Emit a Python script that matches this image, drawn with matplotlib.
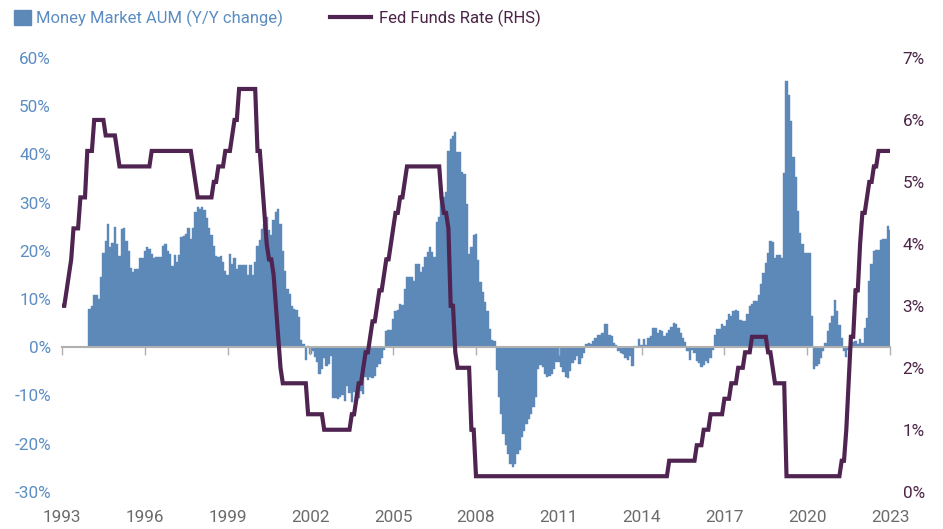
import numpy as np
import matplotlib
matplotlib.use("Agg")
import matplotlib.pyplot as plt
from matplotlib.patches import Rectangle
from matplotlib.lines import Line2D

# --- data -------------------------------------------------------------
# money market AUM, y/y change in %, monthly bars starting at axis year 1994
aum_yoy = [
    8.0, 8.6, 10.9, 10.8, 10.0, 14.5, 19.6, 22.1, 25.6, 20.7, 21.7, 25.0,
    21.5, 19.0, 24.6, 24.8, 22.1, 20.0, 16.5, 15.5, 16.3, 16.3, 18.4, 18.4,
    20.0, 20.7, 20.4, 19.4, 18.6, 18.8, 18.7, 18.8, 21.0, 21.5, 20.0, 19.3,
    16.9, 19.2, 17.6, 19.2, 22.8, 23.0, 23.5, 24.8, 22.5, 24.8, 28.0, 29.0,
    28.7, 29.0, 28.4, 26.7, 24.8, 23.2, 21.0, 19.0, 18.7, 19.0, 17.6, 15.9,
    14.9, 19.4,
    17.3, 18.4, 16.3, 17.0, 17.1, 17.1, 17.1, 14.9, 17.1, 14.9, 17.6, 21.0,
    22.3, 24.6, 25.5, 27.0, 24.4, 23.2, 26.3, 28.0, 28.7, 25.6, 20.0, 15.9,
    12.1, 11.1, 8.6, 8.0, 7.7, 6.2, 1.4, 0.7, -2.6, 0.2, -1.4, -0.8,
    -2.1, -3.1, -5.5, -4.5, -2.2, -3.9, -3.5, -1.8, -10.6, -10.5, -10.8,
    -10.4, -10.0, -11.1, -8.0, -9.5, -11.4, -9.4, -11.0, -10.6, -9.0, -9.8, -6.3,
    -6.8, -6.3, -6.4, -5.9, -4.2, -3.4, -2.2, -0.5, 3.3, 3.6, 3.6,
    5.9, 7.6, 7.7, 9.0, 8.8, 12.0, 14.5, 14.6,
    14.5, 13.8, 17.3, 17.3, 15.6, 16.6, 18.7, 19.7, 20.7, 19.7, 18.7,
    25.9, 27.0, 32.2, 31.1, 32.2, 40.8, 43.2, 43.9, 44.6, 40.5, 40.5, 36.3,
    36.0, 29.7, 19.4, 20.7, 23.2, 23.5, 18.0, 13.5, 11.4, 9.3, 7.6,
    3.8, 1.4, 1.2, -4.8, -10.4, -13.8, -18.0, -20.4, -22.1, -24.2, -24.9,
    -24.2, -22.1, -21.4, -18.7, -17.3, -15.9, -14.9, -13.8, -12.4, -10.4, -4.5, -3.8,
    -4.1, -5.5, -6.2, -6.0, -5.5, -4.5, -3.1, -3.1, -4.1, -5.2, -6.2,
    -6.5, -5.0, -3.3, -2.6, -1.9, -3.5, -2.2, -1.2, 0.7, 0.9, 0.6, 1.2,
    1.9, 2.5, 2.6, 3.0, 4.7, 4.9, 2.6, 2.4, 0.9, 0.5, -0.8, -1.2,
    -1.5, -2.2, -2.6, -1.9, -3.9, 0.2, 0.0, 1.6, 0.4, 1.6, 0.5, 1.9,
    2.3, 3.9, 3.9, 3.0, 3.5, 3.3, 2.3, 3.0, 3.5, 4.1, 5.0, 4.9,
    4.0, 3.0, 1.9, 1.1, -0.7, -2.6, -0.5, -1.2, -2.9, -3.3, -4.1, -3.7,
    -2.9, -3.3, -2.2, -0.5, 2.6, 3.7, 3.7, 4.7, 4.4, 5.7, 6.8, 6.4,
    7.5, 7.8, 7.5,
    5.7, 5.4, 5.4, 6.8, 8.5, 8.9, 9.5, 9.5, 10.9, 13.2, 15.4, 17.5,
    19.6, 22.0, 21.9, 18.5, 19.2, 19.2, 18.5, 36.2, 55.3, 52.3, 46.9, 39.4,
    35.3, 28.2, 23.7, 21.3, 19.6, 19.6, 19.6, 6.4, -4.6, -3.9, -3.6, -2.2,
    -0.8, 0.9, 3.3, 5.1, 6.4, 9.7, 7.5, 4.6, 1.9, -0.8, -2.1, -0.5,
    1.6, 1.1, 1.2, 0.6, 1.6, 0.9, 4.0, 6.1, 13.7, 17.2, 19.9, 20.1,
    20.1, 22.3, 22.5, 22.5, 25.1, 24.4,
]

# fed funds rate (%), monthly, starting at axis year 1993
fed_funds = [3.0] + [
    3.0, 3.25, 3.5, 3.75, 4.25, 4.25, 4.25, 4.75, 4.75, 4.75, 5.5, 5.5,
    5.5, 6.0, 6.0, 6.0, 6.0, 6.0, 5.75, 5.75, 5.75, 5.75, 5.75, 5.5,
    5.25, 5.25, 5.25, 5.25, 5.25, 5.25, 5.25, 5.25, 5.25, 5.25, 5.25, 5.25,
    5.25, 5.25, 5.5, 5.5, 5.5, 5.5, 5.5, 5.5, 5.5, 5.5, 5.5, 5.5,
    5.5, 5.5, 5.5, 5.5, 5.5, 5.5, 5.5, 5.5, 5.25, 5.0, 4.75, 4.75,
    4.75, 4.75, 4.75, 4.75, 4.75, 5.0, 5.0, 5.25, 5.25, 5.25, 5.5, 5.5,
    5.5, 5.75, 6.0, 6.0, 6.5, 6.5, 6.5, 6.5, 6.5, 6.5, 6.5, 6.5,
    5.5, 5.5, 5.0, 4.5, 4.0, 3.75, 3.75, 3.5, 3.0, 2.5, 2.0, 1.75,
    1.75, 1.75, 1.75, 1.75, 1.75, 1.75, 1.75, 1.75, 1.75, 1.75, 1.25, 1.25,
    1.25, 1.25, 1.25, 1.25, 1.25, 1.0, 1.0, 1.0, 1.0, 1.0, 1.0, 1.0,
    1.0, 1.0, 1.0, 1.0, 1.0, 1.25, 1.25, 1.5, 1.75, 1.75, 2.0, 2.25,
    2.25, 2.5, 2.75, 2.75, 3.0, 3.25, 3.25, 3.5, 3.75, 3.75, 4.0, 4.25,
    4.5, 4.5, 4.75, 4.75, 5.0, 5.25, 5.25, 5.25, 5.25, 5.25, 5.25, 5.25,
    5.25, 5.25, 5.25, 5.25, 5.25, 5.25, 5.25, 5.25, 4.75, 4.5, 4.5, 4.25,
    3.0, 3.0, 2.25, 2.0, 2.0, 2.0, 2.0, 2.0, 2.0, 1.0, 1.0, 0.25,
] + [0.25] * 72 + [
    0.25, 0.25, 0.25, 0.25, 0.25, 0.25, 0.25, 0.25, 0.25, 0.25, 0.25, 0.5,
    0.5, 0.5, 0.5, 0.5, 0.5, 0.5, 0.5, 0.5, 0.5, 0.5, 0.5, 0.75,
    0.75, 0.75, 1.0, 1.0, 1.0, 1.25, 1.25, 1.25, 1.25, 1.25, 1.25, 1.5,
    1.5, 1.5, 1.75, 1.75, 1.75, 2.0, 2.0, 2.0, 2.25, 2.25, 2.25, 2.5,
    2.5, 2.5, 2.5, 2.5, 2.5, 2.5, 2.25, 2.25, 2.0, 1.75, 1.75, 1.75,
    1.75, 1.75, 0.25, 0.25, 0.25, 0.25, 0.25, 0.25, 0.25, 0.25, 0.25, 0.25,
    0.25, 0.25, 0.25, 0.25, 0.25, 0.25, 0.25, 0.25, 0.25, 0.25, 0.25, 0.25,
    0.25, 0.25, 0.5, 0.5, 1.0, 1.75, 2.5, 2.5, 3.25, 3.25, 4.0, 4.5,
    4.5, 4.75, 5.0, 5.0, 5.25, 5.25, 5.5, 5.5, 5.5, 5.5, 5.5, 5.5,
]

year_ticks = [1993, 1996, 1999, 2002, 2005, 2008, 2011, 2014, 2017, 2020, 2023]
left_ticks = [-30, -20, -10, 0, 10, 20, 30, 40, 50, 60]
left_labels = ["-30%", "-20%", "-10%", "0%", "10%", "20%", "30%", "40%", "50%", "60%"]
right_ticks = [0, 1, 2, 3, 4, 5, 6, 7]
right_labels = ["0%", "1%", "2%", "3%", "4%", "5%", "6%", "7%"]

bar_label = "Money Market AUM (Y/Y change)"
line_label = "Fed Funds Rate (RHS)"

# --- style ------------------------------------------------------------
bar_color = "#5d89b8"
blue_text = "#5b8dc2"
fed_color = "#4f2451"
plum_text = "#4b2346"
grey = "#b0b0b0"

plt.rcParams["font.family"] = ["Roboto", "DejaVu Sans"]
tick_size = 12.3
leg_size = 12.0

W, H = 943, 529
fig = plt.figure(figsize=(W / 100, H / 100), dpi=100)
ax = fig.add_axes([62 / W, 1 - 491.7 / H, (890 - 62) / W, (491.7 - 58) / H])

x_bars = 1994 + np.arange(len(aum_yoy)) / 12
x_fed = 1993 + np.arange(len(fed_funds)) / 12

ax.bar(x_bars, aum_yoy, width=1 / 12, color=bar_color, edgecolor=bar_color,
       linewidth=0.3, zorder=1)
ax.set_xlim(1993, 2023)
ax.set_ylim(-30, 60)
ax.set_yticks(left_ticks, labels=left_labels)
ax.tick_params(axis="y", length=0, pad=8, labelsize=tick_size, labelcolor=blue_text)

for s in ["top", "right", "left"]:
    ax.spines[s].set_visible(False)
ax.spines["bottom"].set_position(("data", 0))
ax.spines["bottom"].set_color(grey)
ax.spines["bottom"].set_linewidth(1.5)
ax.spines["bottom"].set_zorder(2)
ax.set_xticks(year_ticks)
ax.tick_params(axis="x", direction="out", length=6, width=1, color=grey,
               labelbottom=False)

secax = ax.secondary_xaxis("bottom")
secax.set_xticks(year_ticks, labels=[str(y) for y in year_ticks])
secax.tick_params(length=0, pad=13, labelsize=tick_size, labelcolor="#6b6b6b")
secax.spines["bottom"].set_visible(False)

ax2 = ax.twinx()
ax2.plot(x_fed, fed_funds, color=fed_color, linewidth=3, solid_joinstyle="miter")
ax2.set_ylim(0, 7)
ax2.set_yticks(right_ticks, labels=right_labels)
ax2.tick_params(axis="y", length=0, pad=9, labelsize=tick_size, labelcolor=plum_text)
for s in ax2.spines.values():
    s.set_visible(False)

# legends across the top
leg1 = fig.legend([Rectangle((0, 0), 1, 1, color=bar_color)], [bar_label],
                  loc="center left", bbox_to_anchor=(14 / W, 1 - 18.5 / H),
                  frameon=False, borderpad=0, borderaxespad=0,
                  handlelength=1.0, handleheight=1.0, handletextpad=0.35,
                  fontsize=leg_size)
leg1.get_texts()[0].set_color(blue_text)
leg2 = fig.legend([Line2D([], [], color=fed_color, linewidth=3)], [line_label],
                  loc="center left", bbox_to_anchor=(330 / W, 1 - 18.5 / H),
                  frameon=False, borderpad=0, borderaxespad=0,
                  handlelength=2.45, handletextpad=0.5, fontsize=leg_size)
leg2.get_texts()[0].set_color(plum_text)

fig.savefig("out.png", dpi=100)
